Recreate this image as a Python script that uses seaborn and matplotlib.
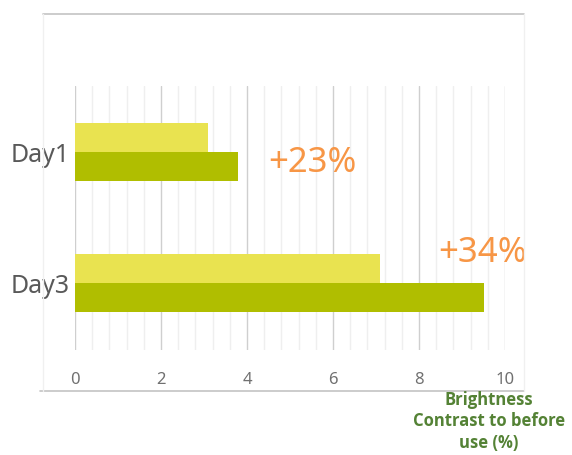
#!/usr/bin/env python3

# Brightness contrast horizontal bar chart, Day1 vs Day3

import numpy as np
import pandas as pd
import seaborn as sns
import matplotlib.pyplot as plt
from matplotlib.lines import Line2D
from matplotlib.ticker import MultipleLocator

days = ['Day1', 'Day3']
series = ['Before', 'After']
before_vals = [3.1, 7.1]
after_vals = [3.8, 9.5]
gain_labels = ['+23%', '+34%']
xticks = [0, 2, 4, 6, 8, 10]

df = pd.DataFrame({
    'Day': days * 2,
    'Series': [series[0]] * 2 + [series[1]] * 2,
    'Value': before_vals + after_vals,
})

sns.set_theme(style="white")
plt.rcParams['font.family'] = ['Noto Sans', 'DejaVu Sans']

fig = plt.figure(figsize=(5.72, 4.55), dpi=100)
ax = fig.add_axes([75/572, 1-350/455, 430/572, 264/455])

palette = ['#E9E350', '#B0BE00']
sns.barplot(df, x='Value', y='Day', hue='Series', orient='h', palette=palette,
            width=0.443, saturation=1, legend=False, linewidth=0, ax=ax)

ax.set_xlim(0, 10)
ax.set_ylim(1.51, -0.505)
ax.set_xticks(xticks)
ax.xaxis.set_minor_locator(MultipleLocator(0.4))
ax.grid(axis='x', which='major', color='#CFCFCF', lw=1)
ax.grid(axis='x', which='minor', color='#EFEFEF', lw=1)
ax.grid(axis='y', visible=False)
ax.set_axisbelow(True)
sns.despine(ax=ax, left=True, bottom=True)
ax.tick_params(axis='x', length=0, pad=16, labelsize=12, labelcolor='#707070')
ax.tick_params(axis='y', length=0, pad=4, labelsize=18, labelcolor='#595959')
ax.set_xlabel('')
ax.set_ylabel('')

# percentage gains
ax.text(5.53, 0.08, gain_labels[0], ha='center', va='center', fontsize=25, color='#F79646')
ax.text(9.47, 0.77, gain_labels[1], ha='center', va='center', fontsize=25, color='#F79646')

fig.text(489/572, 1-391/455, 'Brightness\nContrast to before\nuse (%)', ha='center', va='top',
         fontsize=12, fontweight='bold', color='#548235', linespacing=1.25,
         family=['Open Sans', 'DejaVu Sans'])

# chart frame
W, H = 572, 455
def fline(x0, y0, x1, y1, c, lw):
    fig.add_artist(Line2D([x0/W, x1/W], [1-y0/H, 1-y1/H], color=c, lw=lw, transform=fig.transFigure))
fline(43, 14, 524, 14, '#C4C4C4', 1.2)
fline(40, 391, 524, 391, '#C4C4C4', 1.2)
fline(43, 14, 43, 391, '#F0F0F0', 1)
fline(524, 14, 524, 391, '#F0F0F0', 1)

fig.savefig('out.png', dpi=100)
